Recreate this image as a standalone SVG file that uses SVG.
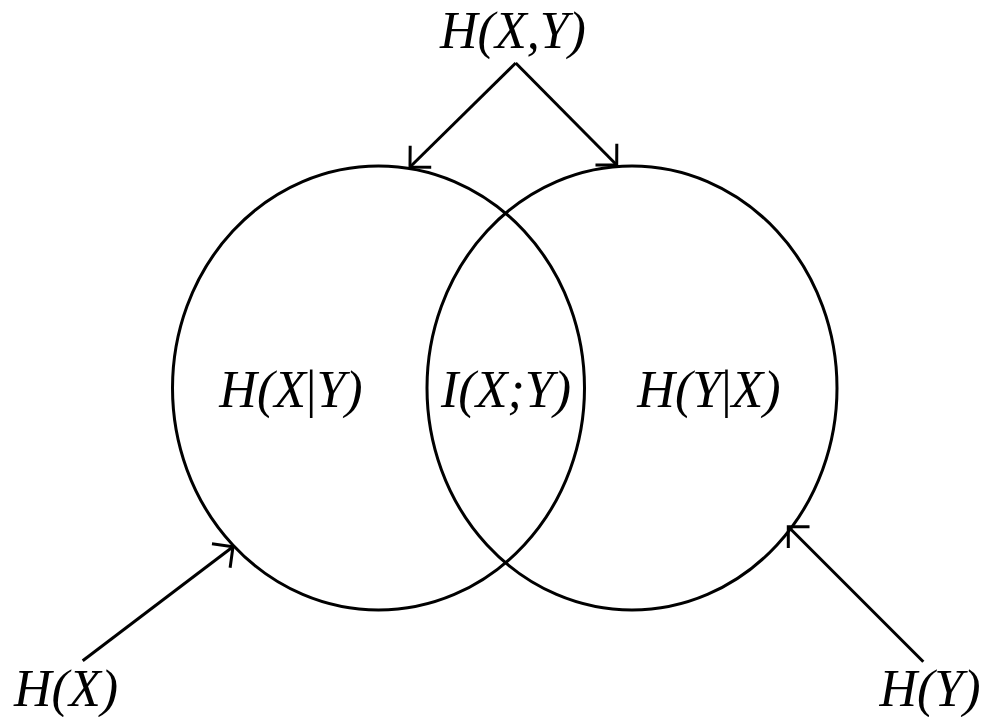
<svg xmlns="http://www.w3.org/2000/svg" width="983" height="717" viewBox="0 0 983 717">
<style>
.c{fill:none;stroke:#000;stroke-width:3}
.l{fill:none;stroke:#000;stroke-width:3;marker-end:url(#ah)}
text{font-family:"Liberation Serif","Times New Roman",serif;font-style:italic;font-size:52px;fill:#000;text-anchor:middle}
.u{font-style:normal}
</style>
<defs>
<marker id="ah" markerUnits="userSpaceOnUse" orient="auto" markerWidth="40" markerHeight="40" refX="0" refY="0" viewBox="-20 -20 40 40" overflow="visible">
<path d="M-15,-15 L0,0 L-15,15" fill="none" stroke="#000" stroke-width="3"/>
</marker>
</defs>
<rect width="983" height="717" fill="#fff"/>
<g id="setX"><ellipse class="c" cx="378.5" cy="388" rx="206" ry="222"/></g>
<g id="setY"><ellipse class="c" cx="632" cy="388" rx="205" ry="222"/></g>
<g id="connectors">
<line class="l" x1="515.7" y1="63" x2="410" y2="167"/>
<line class="l" x1="515.7" y1="63" x2="616.7" y2="165"/>
<line class="l" x1="82.7" y1="660.7" x2="233" y2="546.7"/>
<line class="l" x1="923.3" y1="661.7" x2="788.3" y2="526.7"/>
</g>
<g id="HXY"><text x="513" y="48">H(X,Y)</text></g>
<g id="HXgY"><text x="291" y="407">H(X<tspan class="u">|</tspan>Y)</text></g>
<g id="IXY"><text x="506" y="407">I(X;Y)</text></g>
<g id="HYgX"><text x="709" y="407">H(Y<tspan class="u">|</tspan>X)</text></g>
<g id="HX"><text x="66" y="706">H(X)</text></g>
<g id="HY"><text x="930" y="706">H(Y)</text></g>
</svg>
